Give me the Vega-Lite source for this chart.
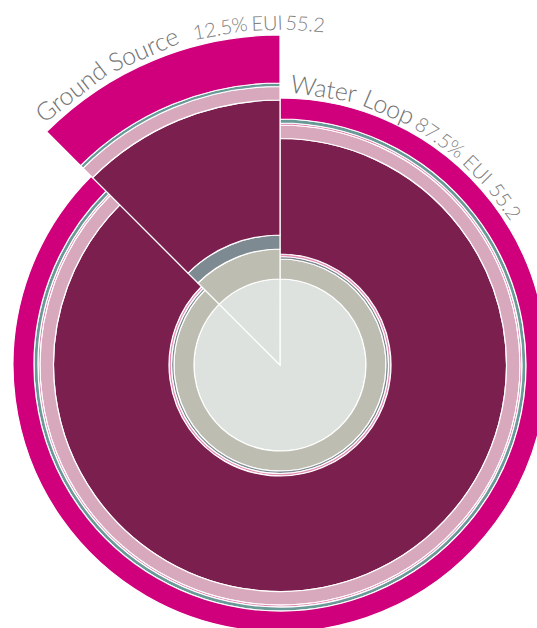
{
  "$schema": "https://vega.github.io/schema/vega-lite/v6.json",
  "autosize": {"type": "none"},
  "width": 514,
  "height": 526,
  "padding": {"left": 23, "top": 102, "right": 0, "bottom": 0},
  "background": "white",
  "view": {"stroke": null},
  "datasets": {
    "rings": [
      {"segment": "Water Loop", "layer": "L1", "t0": 0, "t1": 87.5, "r0": 0, "r1": 86},
      {"segment": "Water Loop", "layer": "L2", "t0": 0, "t1": 87.5, "r0": 86, "r1": 106},
      {"segment": "Water Loop", "layer": "L3", "t0": 0, "t1": 87.5, "r0": 106, "r1": 108.5},
      {"segment": "Water Loop", "layer": "L4", "t0": 0, "t1": 87.5, "r0": 108.5, "r1": 111},
      {"segment": "Water Loop", "layer": "L5", "t0": 0, "t1": 87.5, "r0": 111, "r1": 226.5},
      {"segment": "Water Loop", "layer": "L6", "t0": 0, "t1": 87.5, "r0": 226.5, "r1": 240},
      {"segment": "Water Loop", "layer": "L7", "t0": 0, "t1": 87.5, "r0": 240, "r1": 242},
      {"segment": "Water Loop", "layer": "L8", "t0": 0, "t1": 87.5, "r0": 242, "r1": 246},
      {"segment": "Water Loop", "layer": "L9", "t0": 0, "t1": 87.5, "r0": 246, "r1": 267},
      {"segment": "Ground Source", "layer": "L1", "t0": 87.5, "t1": 100, "r0": 0, "r1": 86},
      {"segment": "Ground Source", "layer": "L2", "t0": 87.5, "t1": 100, "r0": 86, "r1": 116},
      {"segment": "Ground Source", "layer": "L3", "t0": 87.5, "t1": 100, "r0": 116, "r1": 130},
      {"segment": "Ground Source", "layer": "L5", "t0": 87.5, "t1": 100, "r0": 130, "r1": 265},
      {"segment": "Ground Source", "layer": "L6", "t0": 87.5, "t1": 100, "r0": 265, "r1": 278.5},
      {"segment": "Ground Source", "layer": "L8", "t0": 87.5, "t1": 100, "r0": 278.5, "r1": 282},
      {"segment": "Ground Source", "layer": "L9", "t0": 87.5, "t1": 100, "r0": 282, "r1": 330}
    ],
    "labels": [
      {"segment": "Ground Source", "part": "name", "text": "Ground", "pos": 89.6, "r": 343},
      {"segment": "Ground Source", "part": "name", "text": "Source", "pos": 93.5, "r": 343},
      {"segment": "Ground Source", "part": "stats", "text": "12.5%", "pos": 97.2, "r": 341},
      {"segment": "Ground Source", "part": "stats", "text": "EUI", "pos": 99.4, "r": 341},
      {"segment": "Ground Source", "part": "stats", "text": "55.2", "pos": 1.17, "r": 341},
      {"segment": "Water Loop", "part": "name", "text": "Water", "pos": 2.5, "r": 279},
      {"segment": "Water Loop", "part": "name", "text": "Loop", "pos": 6.36, "r": 279},
      {"segment": "Water Loop", "part": "stats", "text": "87.5%", "pos": 9.75, "r": 277},
      {"segment": "Water Loop", "part": "stats", "text": "EUI", "pos": 12.58, "r": 277},
      {"segment": "Water Loop", "part": "stats", "text": "55.2", "pos": 15.0, "r": 277}
    ]
  },
  "layer": [
    {
      "data": {"name": "rings"},
      "mark": {"type": "arc", "stroke": "white", "strokeWidth": 1.2},
      "encoding": {
        "theta": {"field": "t0", "type": "quantitative", "scale": {"domain": [0, 100], "range": [0, 6.283185307179586]}},
        "theta2": {"field": "t1"},
        "radius": {"field": "r0", "type": "quantitative", "scale": {"type": "linear", "domain": [0, 330], "range": [0, 330], "zero": true}},
        "radius2": {"field": "r1"},
        "color": {
          "field": "layer", "type": "nominal", "legend": null,
          "scale": {
            "domain": ["L1", "L2", "L3", "L4", "L5", "L6", "L7", "L8", "L9"],
            "range": ["#dde2de", "#bdbdb1", "#7d8a91", "#e58fb5", "#7b1f4f", "#d8a9bd", "#e07aa8", "#6a9a98", "#d0007c"]
          }
        }
      }
    },
    {
      "data": {"name": "labels"},
      "transform": [{"filter": "datum.part == 'name'"}],
      "mark": {"type": "text", "font": "Lato", "fontWeight": 300, "fontSize": 25, "color": "#747474", "align": "center", "baseline": "middle"},
      "encoding": {
        "theta": {"field": "pos", "type": "quantitative"},
        "radius": {"field": "r", "type": "quantitative"},
        "angle": {"field": "pos", "type": "quantitative", "scale": {"domain": [0, 100], "range": [0, 360]}},
        "text": {"field": "text"}
      }
    },
    {
      "data": {"name": "labels"},
      "transform": [{"filter": "datum.part == 'stats'"}],
      "mark": {"type": "text", "font": "Lato", "fontWeight": 300, "fontSize": 20, "color": "#808080", "align": "center", "baseline": "middle"},
      "encoding": {
        "theta": {"field": "pos", "type": "quantitative"},
        "radius": {"field": "r", "type": "quantitative"},
        "angle": {"field": "pos", "type": "quantitative", "scale": {"domain": [0, 100], "range": [0, 360]}},
        "text": {"field": "text"}
      }
    }
  ]
}
